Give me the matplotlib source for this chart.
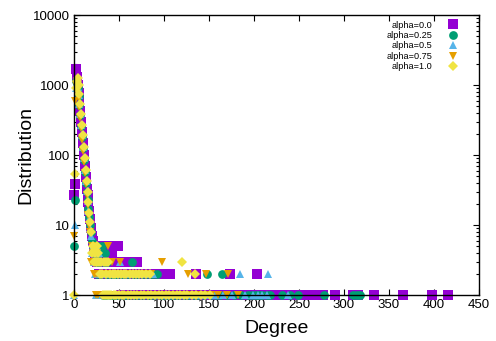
import matplotlib
matplotlib.use("Agg")
import matplotlib.pyplot as plt
from matplotlib.ticker import FixedLocator, FuncFormatter, LogLocator, NullFormatter

plt.rcParams["font.family"] = ["Liberation Sans", "DejaVu Sans"]

labels = ["alpha=0.0", "alpha=0.25", "alpha=0.5", "alpha=0.75", "alpha=1.0"]
colors = ["#9400d3", "#009e73", "#56b4e9", "#e69f00", "#f0e442"]
markers = ["s", "o", "^", "v", "D"]
msizes = [6.8, 6.3, 6.2, 6.2, 4.6]

# alpha=0.0 : head of the distribution (degree 0..21), then the low-count rows
head_00 = [27, 38, 1700, 1300, 1000, 780, 580, 420, 300, 210, 150, 100, 70, 48, 33, 27, 21, 16, 12, 9, 7, 6]
rows_00 = {
    5: [22, 24, 27, 30, 33, 36, 40, 44, 47, 49],
    4: [23, 26, 29, 34, 38, 42],
    3: [25, 31, 35, 39, 43, 46, 50, 53, 56, 59, 62, 65, 68, 70],
    2: [28, 32, 37, 41, 45, 48, 51, 54, 57, 60, 63, 66, 69, 72, 75, 78, 81, 84, 87, 90,
        93, 96, 99, 102, 105, 107, 136, 173, 203],
    1: [52, 55, 58, 61, 64, 67, 71, 74, 77, 80, 83, 86, 89, 92, 95, 98, 101, 104, 108, 111,
        115, 119, 123, 127, 131, 140, 145, 150, 156, 160, 165, 169, 176, 180, 185, 190, 195,
        200, 206, 211, 219, 229, 234, 240, 245, 251, 256, 261, 266, 277, 290, 310, 315, 333,
        365, 398, 415],
}

# alpha=0.25
head_025 = [5, 23, 1150, 1050, 900, 700, 520, 370, 260, 180, 125, 85, 58, 40, 30, 23, 17, 13, 10, 8, 6]
rows_025 = {
    5: [21, 23, 27, 31],
    4: [22, 25, 29, 34],
    3: [24, 28, 33, 37, 64],
    2: [26, 30, 35, 39, 42, 45, 48, 52, 56, 60, 66, 70, 75, 80, 84, 88, 92, 148, 164],
    1: [32, 36, 40, 43, 47, 50, 54, 58, 62, 68, 72, 77, 82, 86, 90, 95, 99, 103, 108, 112,
        117, 122, 127, 133, 138, 144, 152, 158, 162, 170, 178, 186, 193, 198, 202, 205, 209,
        214, 218, 231, 240, 249, 278, 310, 314, 318],
}

# alpha=0.5
head_05 = [1, 10, 900, 1100, 950, 720, 530, 380, 270, 190, 130, 90, 62, 43, 31, 22, 16, 12, 9, 7]
rows_05 = {
    5: [21, 26],
    4: [20, 28],
    3: [22, 25, 30, 51],
    2: [23, 27, 32, 36, 40, 44, 48, 53, 57, 62, 67, 72, 78, 83, 88, 184, 216],
    1: [24, 29, 31, 34, 38, 42, 46, 50, 55, 59, 64, 69, 74, 80, 85, 91, 96, 101, 106, 111,
        116, 121, 126, 131, 137, 142, 150, 157, 166, 175, 190, 199, 204, 209, 214, 238],
}

# alpha=0.75
head_075 = [7, 600, 1000, 1000, 850, 650, 480, 340, 240, 165, 115, 80, 55, 38, 27, 19, 14, 10, 8]
rows_075 = {
    5: [20, 38],
    4: [21, 26],
    3: [19, 28, 42, 51, 98],
    2: [22, 23, 25, 29, 32, 35, 39, 44, 48, 53, 58, 63, 68, 73, 78, 83, 86, 127, 147, 171],
    1: [24, 27, 30, 33, 36, 40, 45, 50, 55, 60, 65, 70, 75, 80, 88, 92, 97, 102, 107, 113,
        118, 124, 130, 136, 141, 146, 152, 160, 170, 182],
}

# alpha=1.0
head_10 = [1, 54, 900, 1150, 1270, 1000, 750, 540, 380, 270, 190, 130, 90, 62, 43, 30, 21, 15, 11, 8]
rows_10 = {
    5: [21, 25],
    4: [20, 23, 27],
    3: [22, 24, 26, 28, 30, 33, 35, 38, 120],
    2: [29, 31, 36, 40, 43, 46, 49, 52, 55, 58, 62, 65, 69, 72, 76, 80, 84, 134],
    1: [32, 34, 37, 39, 41, 44, 47, 50, 53, 56, 60, 63, 67, 70, 74, 78, 82, 86, 90, 94, 98,
        102, 106, 110, 114, 118, 122, 126, 131, 136, 141, 146, 151],
}

heads = [head_00, head_025, head_05, head_075, head_10]
rows = [rows_00, rows_025, rows_05, rows_075, rows_10]


def series(head, tail):
    x = list(range(len(head)))
    y = list(head)
    for cnt, degs in tail.items():
        x += degs
        y += [cnt] * len(degs)
    return x, y


fig = plt.figure(figsize=(4.96, 3.41), dpi=100)
ax = fig.add_axes([74 / 496, 1 - 295 / 341, 405 / 496, 280 / 341])

for head, tail, lab, c, m, ms in zip(heads, rows, labels, colors, markers, msizes):
    x, y = series(head, tail)
    ax.plot(x, y, linestyle="none", marker=m, ms=ms, color=c, mec=c, mew=0,
            label=lab, clip_on=False)

ax.set_yscale("log")
ax.set_xlim(0, 450)
ax.set_ylim(1, 10000)
ax.xaxis.set_major_locator(FixedLocator(range(0, 451, 50)))
ax.yaxis.set_major_locator(FixedLocator([1, 10, 100, 1000, 10000]))
ax.yaxis.set_major_formatter(FuncFormatter(lambda v, _: f"{v:g}"))
ax.yaxis.set_minor_locator(LogLocator(base=10, subs=range(2, 10)))
ax.yaxis.set_minor_formatter(NullFormatter())

ax.tick_params(which="both", direction="in", top=True, right=True, labelsize=9.5,
               width=0.8, pad=3)
ax.tick_params(which="major", length=4.5)
ax.tick_params(which="minor", length=2.5)
for sp in ax.spines.values():
    sp.set_linewidth(1.0)

ax.set_xlabel("Degree", fontsize=14, labelpad=6.5)
ax.set_ylabel("Distribution", fontsize=14, labelpad=-1)

ax.legend(loc="upper right", bbox_to_anchor=(0.947, 0.98), frameon=False, fontsize=6.6,
          markerfirst=False, handlelength=1.0, handletextpad=1.7, labelspacing=0.15,
          borderpad=0, borderaxespad=0)

fig.savefig("out.png", dpi=100)
